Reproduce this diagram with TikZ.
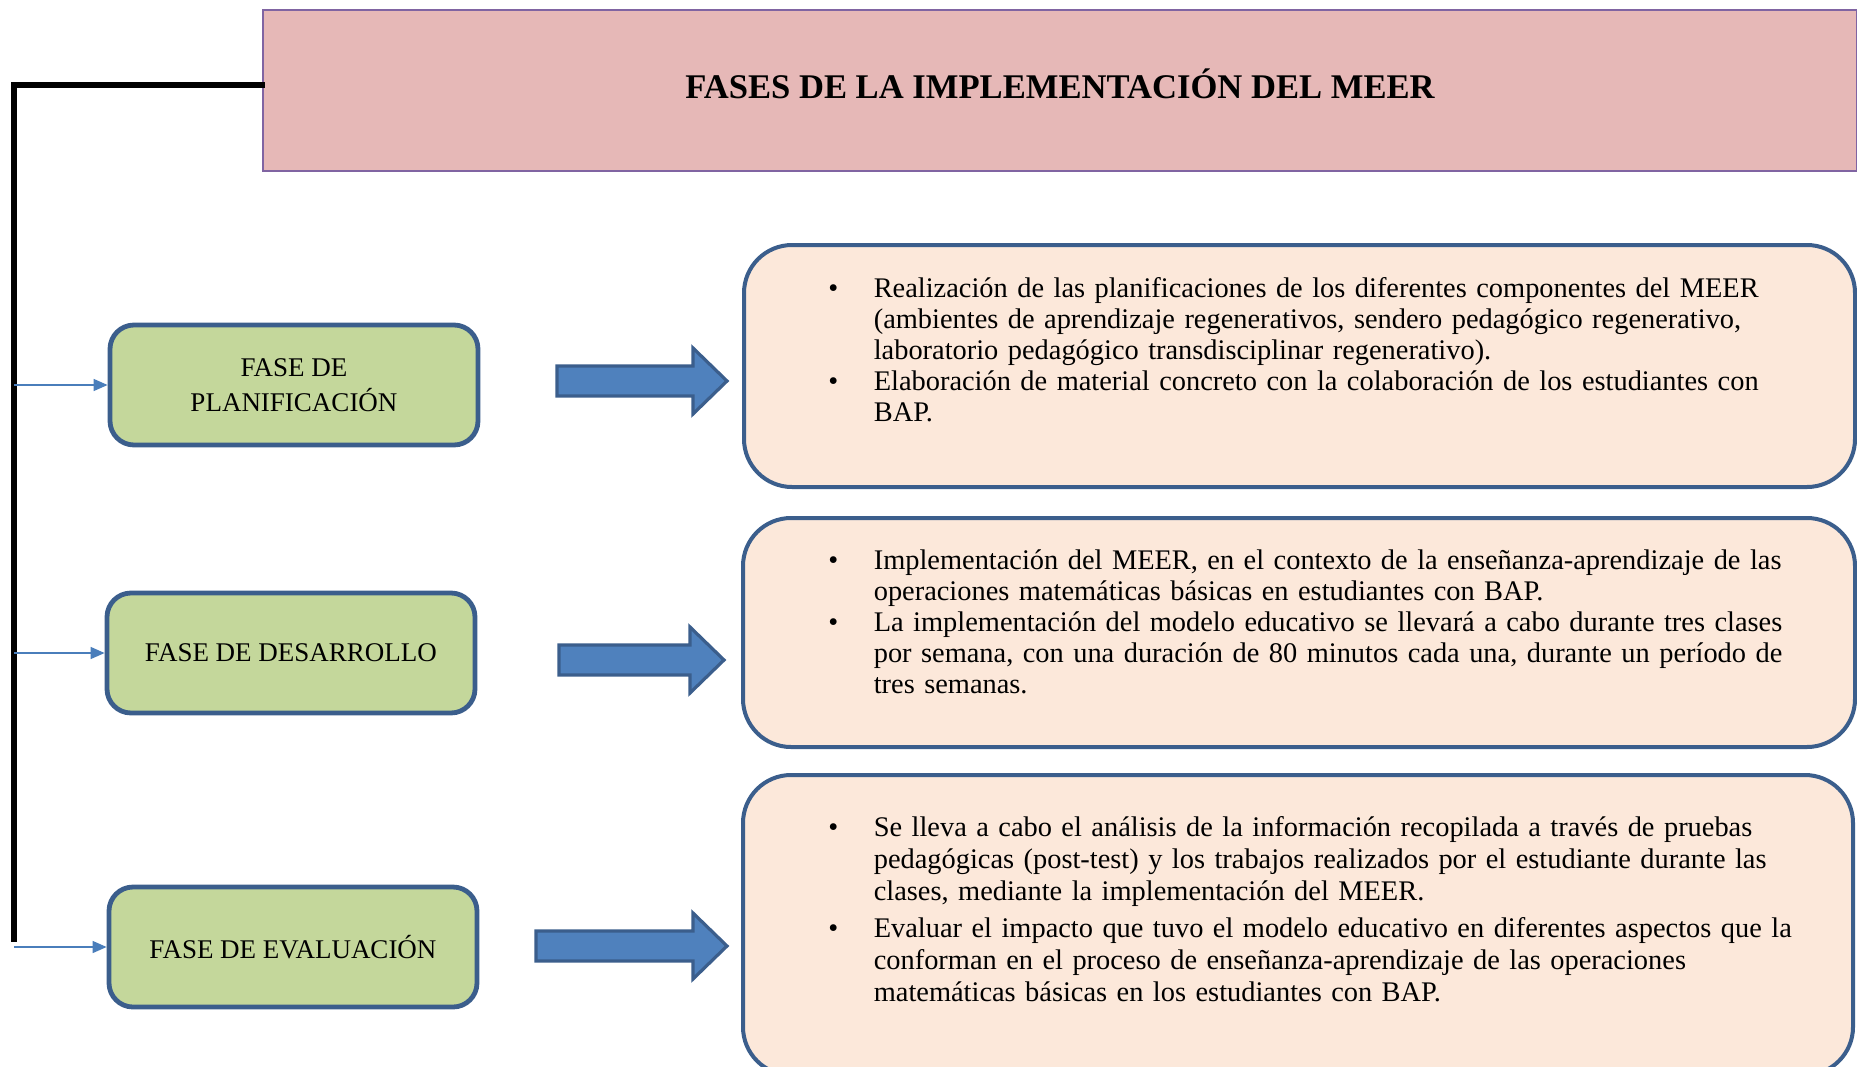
\documentclass[tikz,border=0pt]{standalone}
\usepackage{fontspec}
\setmainfont{Liberation Serif}
\usetikzlibrary{arrows.meta}
\definecolor{titlepink}{HTML}{E6B8B7}
\definecolor{titleedge}{HTML}{8064A2}
\definecolor{phasegreen}{HTML}{C4D79B}
\definecolor{boxedge}{HTML}{3B5E8C}
\definecolor{detailpeach}{HTML}{FCE8DA}
\definecolor{arrowblue}{HTML}{4F81BD}
\definecolor{feedblue}{HTML}{4A7EBB}
\def\blockarrow(#1,#2)(#3){\filldraw[fill=arrowblue,draw=boxedge,line width=1.6pt] (#1,#2-15) -- (#3-34,#2-15) -- (#3-34,#2-33) -- (#3,#2) -- (#3-34,#2+33) -- (#3-34,#2+15) -- (#1,#2+15) -- cycle}
\newcommand{\bul}[1]{\par\noindent\hangindent=22.7pt\hangafter=1\makebox[22.7pt][l]{\textbullet}#1\par}
\begin{document}
\begin{tikzpicture}[x=0.5pt,y=-0.5pt,
    spine/.style={line width=3pt,line cap=rect},
    phase/.style={draw=boxedge,line width=2.4pt,fill=phasegreen,rounded corners=12pt,minimum width=184pt,minimum height=60pt,align=center,font=\fontsize{13.5}{17.8}\selectfont},
    detail/.style={draw=boxedge,line width=2pt,fill=detailpeach,rounded corners=24pt},
    itemtext/.style={anchor=north west,inner sep=0pt,text width=515pt,align=left,font=\fontsize{14.2}{15.5}\selectfont},
    feed/.style={draw=feedblue,line width=0.7pt,-{Triangle[length=7pt,width=6pt]}}]
    \useasboundingbox (0,0) rectangle (1857,1066);

    \node[draw=titleedge,line width=1pt,fill=titlepink,minimum width=797pt,minimum height=80.5pt] (title) at (1060,90) {};
    \node[font=\bfseries\fontsize{17.3}{20}\selectfont] (titletext) at (1060,84) {FASES DE LA IMPLEMENTACIÓN DEL MEER};

    \node[phase] (plan) at (294,385) {FASE DE\\PLANIFICACIÓN};
    \node[phase] (desa) at (291,653) {FASE DE DESARROLLO};
    \node[phase] (eval) at (293,947) {FASE DE EVALUACIÓN};

    \coordinate (spinetop) at ([yshift=2.5pt]title.west);
    \coordinate (spinebot) at (14,939);
    \draw[spine] (spinetop) -| (spinebot);
    \draw[feed] (spinebot |- plan.west) -- (plan.west);
    \draw[feed] (spinebot |- desa.west) -- (desa.west);
    \draw[feed] (spinebot |- eval.west) -- (eval.west);

    \blockarrow(557,381)(727);
    \blockarrow(559,660)(724);
    \blockarrow(536,946)(727);

    \node[detail,minimum width=555.5pt,minimum height=121pt] (planbox) at (1299.5,366) {};
    \node[detail,minimum width=556pt,minimum height=114.5pt] (desabox) at (1299,632.5) {};
    \node[detail,minimum width=555pt,minimum height=150pt] (evalbox) at (1298,925) {};

    \node[itemtext] (planitems) at (828,266) {%
        \bul{Realización de las planificaciones de los diferentes componentes del MEER\newline(ambientes de aprendizaje regenerativos, sendero pedagógico regenerativo,\newline laboratorio pedagógico transdisciplinar regenerativo).}
        \bul{Elaboración de material concreto con la colaboración de los estudiantes con\newline BAP.}};
    \node[itemtext] (desaitems) at (828,538) {%
        \bul{Implementación del MEER, en el contexto de la enseñanza-aprendizaje de las\newline operaciones matemáticas básicas en estudiantes con BAP.}
        \bul{La implementación del modelo educativo se llevará a cabo durante tres clases\newline por semana, con una duración de 80 minutos cada una, durante un período de\newline tres semanas.}};
    \node[itemtext,font=\fontsize{14.2}{16}\selectfont] (evalitems) at (828,804) {%
        \bul{Se lleva a cabo el análisis de la información recopilada a través de pruebas\newline pedagógicas (post-test) y los trabajos realizados por el estudiante durante las\newline clases, mediante la implementación del MEER.}
        \vspace{2.5pt}
        \bul{Evaluar el impacto que tuvo el modelo educativo en diferentes aspectos que la\newline conforman en el proceso de enseñanza-aprendizaje de las operaciones\newline matemáticas básicas en los estudiantes con BAP.}};
\end{tikzpicture}
\end{document}
